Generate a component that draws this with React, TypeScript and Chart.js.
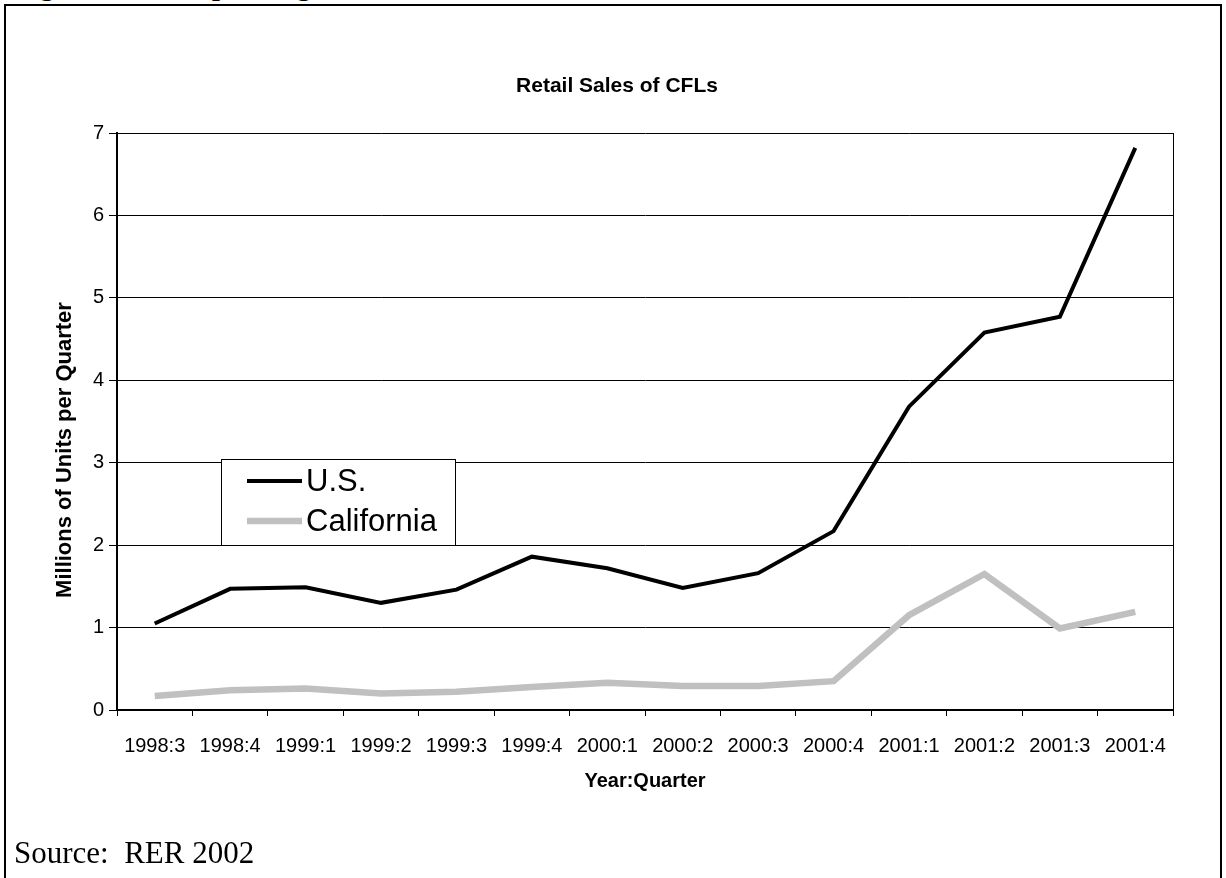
import React, { useEffect, useRef } from "react";
import { Chart, registerables } from "chart.js";

Chart.register(...registerables);

const quarters = [
  "1998:3", "1998:4", "1999:1", "1999:2", "1999:3", "1999:4", "2000:1",
  "2000:2", "2000:3", "2000:4", "2001:1", "2001:2", "2001:3", "2001:4",
];
const usSales = [1.05, 1.47, 1.49, 1.3, 1.46, 1.86, 1.72, 1.48, 1.66, 2.17, 3.68, 4.58, 4.77, 6.82];
const californiaSales = [0.17, 0.24, 0.26, 0.2, 0.22, 0.28, 0.33, 0.29, 0.29, 0.35, 1.15, 1.65, 0.99, 1.19];
const seriesNames = ["U.S.", "California"];
const yMin = 0;
const yMax = 7;
const yStep = 1;

const chartTitle = "Retail Sales of CFLs";
const xTitle = "Year:Quarter";
const yTitle = "Millions of Units per Quarter";

const SANS = "'Liberation Sans', Arial, Helvetica, sans-serif";
const SERIF = "'Liberation Serif', 'Times New Roman', Times, serif";

const boxLegend = {
  id: "boxLegend",
  afterDatasetsDraw(chart: any) {
    const { ctx, chartArea } = chart;
    const x0 = Math.round(chartArea.left + 104);
    const y0 = Math.round(chartArea.top + 326);
    const w = 234;
    const h = 86;
    ctx.save();
    ctx.fillStyle = "#ffffff";
    ctx.fillRect(x0, y0, w, h);
    ctx.strokeStyle = "#000000";
    ctx.lineWidth = 1;
    ctx.strokeRect(x0 + 0.5, y0 + 0.5, w, h);
    chart.data.datasets.forEach((ds: any, i: number) => {
      const cy = y0 + 22 + i * 40;
      ctx.strokeStyle = ds.borderColor;
      ctx.lineWidth = ds.borderWidth;
      ctx.lineCap = "butt";
      ctx.beginPath();
      ctx.moveTo(x0 + 26, cy);
      ctx.lineTo(x0 + 81, cy);
      ctx.stroke();
      ctx.fillStyle = "#000000";
      ctx.font = `31px ${SANS}`;
      ctx.textBaseline = "middle";
      ctx.textAlign = "left";
      ctx.fillText(ds.label, x0 + 85, cy + 1);
    });
    ctx.restore();
  },
};

// Draws the y-axis title (text from the scale's own title option), placed like the original.
const yAxisTitle = {
  id: "yAxisTitle",
  afterDraw(chart: any) {
    const { ctx, chartArea } = chart;
    const opts = chart.options.scales.y.title;
    ctx.save();
    ctx.translate(chartArea.left - 52, chartArea.top + 317);
    ctx.rotate(-Math.PI / 2);
    ctx.fillStyle = "#000000";
    ctx.font = `bold 22px ${SANS}`;
    ctx.textAlign = "center";
    ctx.textBaseline = "middle";
    ctx.fillText(opts.text, 0, 0);
    ctx.restore();
  },
};

export default function App() {
  const canvasRef = useRef<HTMLCanvasElement | null>(null);

  useEffect(() => {
    if (!canvasRef.current) return;
    const chart = new Chart(canvasRef.current, {
      type: "line",
      data: {
        labels: quarters,
        datasets: [
          {
            label: seriesNames[0],
            data: usSales,
            borderColor: "#000000",
            backgroundColor: "#000000",
            borderWidth: 4,
            pointRadius: 0,
            tension: 0,
            fill: false,
          },
          {
            label: seriesNames[1],
            data: californiaSales,
            borderColor: "#c0c0c0",
            backgroundColor: "#c0c0c0",
            borderWidth: 6.5,
            pointRadius: 0,
            tension: 0,
            fill: false,
          },
        ],
      },
      options: {
        responsive: false,
        animation: false,
        devicePixelRatio: 1,
        layout: { padding: { left: 61, right: 53, top: 0, bottom: 68 } },
        plugins: {
          legend: { display: false },
          tooltip: { enabled: false },
          title: {
            display: true,
            text: chartTitle,
            color: "#000000",
            font: { family: SANS, size: 21, weight: "bold" },
            padding: { top: 74, bottom: 33.8 },
          },
        },
        scales: {
          x: {
            type: "category",
            offset: true,
            afterFit: (scale: any) => {
              scale.height = 100;
            },
            grid: {
              offset: true,
              drawOnChartArea: true,
              drawTicks: true,
              tickLength: 6,
              lineWidth: 1,
              tickColor: "#000000",
              color: (c: any) =>
                c.index === undefined || c.index >= quarters.length ? "#000000" : "rgba(0,0,0,0)",
            },
            border: { display: true, color: "#000000", width: 2 },
            ticks: {
              color: "#000000",
              font: { family: SANS, size: 20 },
              padding: 18,
              autoSkip: false,
              maxRotation: 0,
              minRotation: 0,
            },
            title: {
              display: true,
              text: xTitle,
              color: "#000000",
              font: { family: SANS, size: 20, weight: "bold" },
              padding: { top: 0, bottom: 17 },
            },
          },
          y: {
            min: yMin,
            max: yMax,
            afterFit: (scale: any) => {
              scale.width = 56;
            },
            grid: {
              color: "#000000",
              lineWidth: 1,
              drawTicks: true,
              tickLength: 8,
              tickColor: "#000000",
            },
            border: { display: true, color: "#000000", width: 2 },
            ticks: {
              stepSize: yStep,
              color: "#000000",
              font: { family: SANS, size: 20 },
              padding: 5,
            },
            title: {
              display: false,
              text: yTitle,
              color: "#000000",
              font: { family: SANS, size: 22, weight: "bold" },
            },
          },
        },
      },
      plugins: [boxLegend, yAxisTitle],
    });
    return () => chart.destroy();
  }, []);

  return (
    <div
      style={{
        position: "fixed",
        left: 0,
        top: 0,
        width: 1226,
        height: 878,
        overflow: "hidden",
        background: "#ffffff",
      }}
    >
      <div
        style={{
          position: "absolute",
          left: 15,
          top: -28,
          fontFamily: SERIF,
          fontWeight: "bold",
          fontSize: 28,
          lineHeight: "28px",
          whiteSpace: "pre",
          color: "#000",
        }}
      >
        Figure 4-1: Compact Light Bulb Sales
      </div>
      <div
        style={{
          position: "absolute",
          left: 4,
          top: 4,
          width: 1214,
          height: 920,
          border: "2px solid #000",
          boxSizing: "content-box",
        }}
      />
      <canvas
        ref={canvasRef}
        width={1226}
        height={878}
        style={{ position: "absolute", left: 0, top: 0, width: 1226, height: 878 }}
      />
      <div
        style={{
          position: "absolute",
          left: 14,
          top: 837,
          fontFamily: SERIF,
          fontSize: 31,
          lineHeight: "31px",
          whiteSpace: "pre",
          color: "#000",
        }}
      >
        {"Source:  RER 2002"}
      </div>
    </div>
  );
}
